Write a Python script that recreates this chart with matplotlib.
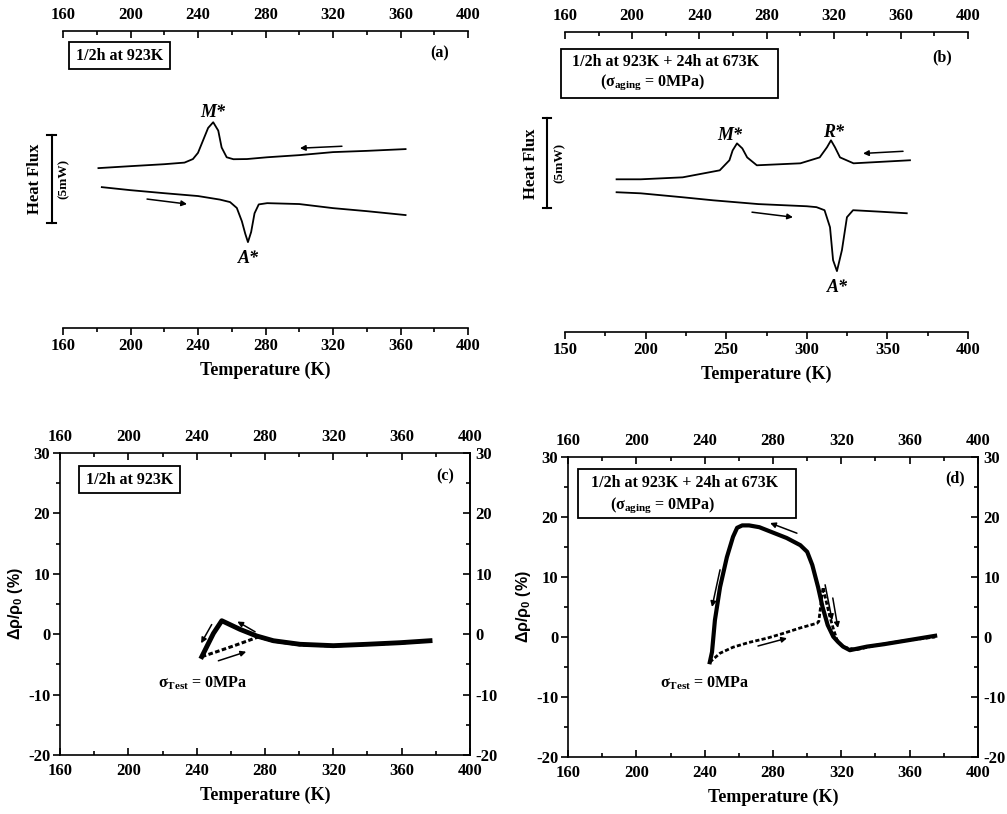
import matplotlib.pyplot as plt
from matplotlib.patches import Rectangle
from matplotlib.ticker import MultipleLocator

plt.rcParams['font.family'] = 'Liberation Serif'
plt.rcParams['font.weight'] = 'bold'
plt.rcParams['axes.labelweight'] = 'bold'
plt.rcParams['axes.unicode_minus'] = False
plt.rcParams['mathtext.fontset'] = 'custom'
plt.rcParams['mathtext.rm'] = 'Liberation Serif:bold'
plt.rcParams['mathtext.it'] = 'Liberation Serif:italic:bold'
plt.rcParams['mathtext.bf'] = 'Liberation Serif:bold'
plt.rcParams['mathtext.sf'] = 'Liberation Sans:bold'
plt.rcParams['axes.linewidth'] = 1.2

W, H = 1007, 814

# ---- DSC (a): 1/2h at 923K, heat flux in mW (arbitrary offset)
T_a_cool = [181, 200, 220, 232, 237, 240, 243, 246, 249, 252, 254, 257, 261, 269, 281, 300, 320, 340, 363]
hf_a_cool = [8.99, 9.10, 9.21, 9.30, 9.50, 9.85, 10.55, 11.25, 11.57, 11.10, 10.15, 9.60, 9.49, 9.50,
             9.60, 9.72, 9.89, 9.96, 10.06]
T_a_heat = [183, 200, 220, 240, 253, 259, 263, 266, 268, 269.6, 271.5, 273.5, 276, 281, 300, 320, 340, 363]
hf_a_heat = [7.92, 7.75, 7.58, 7.42, 7.22, 7.08, 6.75, 6.0, 5.3, 4.83, 5.4, 6.45, 6.95, 7.02, 6.97, 6.74,
             6.57, 6.35]

# ---- DSC (b): + 24h at 673K
T_b_cool = [182, 197, 223, 246, 252, 254, 256.7, 260, 263, 269, 296, 308, 312.5, 315, 317.5, 320.6, 329, 364]
hf_b_cool = [8.5, 8.5, 8.61, 9.0, 9.56, 10.11, 10.5, 10.22, 9.72, 9.28, 9.39, 9.72, 10.28, 10.67,
             10.28, 9.72, 9.39, 9.56]
T_b_heat = [182, 197, 223, 242, 270, 300, 306, 311, 314.4, 316.3, 318.7, 321.8, 324.9, 328.7, 345, 362]
hf_b_heat = [7.78, 7.72, 7.5, 7.33, 7.12, 7.0, 6.95, 6.78, 5.83, 4.0, 3.39, 4.56, 6.39, 6.78, 6.7, 6.61]

# ---- resistivity (c): 1/2h at 923K, delta rho / rho0 in %
T_c_cool = [376.6, 359, 339.6, 320, 300.5, 284.9, 275.2, 265.4, 254.7, 249.8, 245.9, 243]
dr_c_cool = [-1.08, -1.41, -1.67, -1.9, -1.67, -1.08, -0.3, 0.8, 2.23, 0.13, -2.07, -3.72]
T_c_heat = [243, 251.7, 261.5, 271.2, 276, 285, 300, 320, 340, 360, 376.6]
dr_c_heat = [-3.72, -2.9, -1.95, -0.96, -0.45, -1.15, -1.75, -1.95, -1.7, -1.45, -1.1]

# ---- resistivity (d): + 24h at 673K
T_d_cool = [374.9, 360, 345, 335, 325, 321, 318, 315.3, 312, 309, 306.4, 303, 300, 296, 288, 280, 272,
            266, 262, 259, 256.6, 253, 249, 246, 244.3, 243]
dr_d_cool = [0.2, -0.5, -1.2, -1.6, -2.2, -1.6, -0.8, 0.05, 2.0, 5.0, 8.3, 12.0, 14.2, 15.3, 16.5, 17.4,
             18.3, 18.6, 18.6, 18.2, 16.7, 13.3, 8.3, 2.8, -2.5, -4.2]
T_d_heat = [243, 249, 256.6, 266, 276.5, 286, 295.8, 305.8, 306.8, 309.3, 311.5, 313.4, 315.5, 317.5,
            321, 329, 340, 355, 374.9]
dr_d_heat = [-4.2, -2.7, -1.7, -0.9, -0.2, 0.6, 1.5, 2.3, 2.6, 8.3, 5.5, 3.3, 1.2, -0.5, -1.7, -2.1,
             -1.4, -0.7, 0.0]

x_ticks = [160, 200, 240, 280, 320, 360, 400]
x_ticks_b = [150, 200, 250, 300, 350, 400]
y_ticks_res = [-20, -10, 0, 10, 20, 30]
scale_mW = 5

TICK_FS = 12
TEXT_FS = 11.5

fig = plt.figure(figsize=(W / 100, H / 100), dpi=100)


def add_axes_px(x0, y0, x1, y1):
    return fig.add_axes([x0 / W, 1 - y1 / H, (x1 - x0) / W, (y1 - y0) / H])


def fig_text(x, y, s, **kw):
    fig.text(x / W, 1 - y / H, s, **kw)


def fig_box(x0, y0, x1, y1):
    fig.add_artist(Rectangle((x0 / W, 1 - y1 / H), (x1 - x0) / W, (y1 - y0) / H,
                             transform=fig.transFigure, fill=False, lw=1.3, ec='k'))


def arrow(ax, tail, head):
    ax.annotate('', xy=head, xytext=tail,
                arrowprops=dict(arrowstyle='-|>', lw=1.1, color='k', mutation_scale=8,
                                shrinkA=0, shrinkB=0))


def dsc_panel(box, xlim, ticks, minor, top_funcs=None):
    ax = add_axes_px(*box)
    ax.set_xlim(xlim)
    ax.set_ylim(0, 16.7)
    ax.spines[['left', 'right', 'top']].set_visible(False)
    ax.set_yticks([])
    ax.set_xticks(ticks)
    ax.xaxis.set_minor_locator(MultipleLocator(minor))
    ax.tick_params(axis='x', which='major', direction='out', length=5, width=1.2, labelsize=TICK_FS, pad=2)
    ax.tick_params(axis='x', which='minor', direction='out', length=3, width=1.2)
    ax.set_xlabel('Temperature (K)', fontsize=13, labelpad=6)
    if top_funcs:
        top = ax.secondary_xaxis('top', functions=top_funcs)
    else:
        top = ax.secondary_xaxis('top')
    top.set_xticks(x_ticks)
    top.xaxis.set_minor_locator(MultipleLocator(20))
    top.tick_params(axis='x', which='major', direction='in', length=5, width=1.2, labelsize=TICK_FS, pad=6)
    top.tick_params(axis='x', which='minor', direction='in', length=3, width=1.2)
    return ax


def heat_flux_bar(ax, x, y0, dx):
    ax.plot([x, x], [y0, y0 + scale_mW], color='k', lw=1.5, clip_on=False)
    for y in (y0, y0 + scale_mW):
        ax.plot([x - dx, x + dx], [y, y], color='k', lw=1.5, clip_on=False)


def res_panel(box):
    ax = add_axes_px(*box)
    ax.set_xlim(160, 400)
    ax.set_ylim(-20, 30)
    ax.set_xticks(x_ticks)
    ax.xaxis.set_minor_locator(MultipleLocator(20))
    ax.set_yticks(y_ticks_res)
    ax.yaxis.set_minor_locator(MultipleLocator(5))
    ax.tick_params(axis='x', which='both', direction='in', top=True, labeltop=True, width=1.2,
                   labelsize=TICK_FS, pad=6)
    ax.tick_params(axis='x', which='major', length=5)
    ax.tick_params(axis='x', which='minor', length=3)
    ax.tick_params(axis='y', which='both', direction='out', width=1.2, labelsize=TICK_FS, pad=2)
    ax.tick_params(axis='y', which='major', length=5)
    ax.tick_params(axis='y', which='minor', length=3)
    right = ax.secondary_yaxis('right')
    right.set_yticks(y_ticks_res)
    right.yaxis.set_minor_locator(MultipleLocator(5))
    right.tick_params(which='both', direction='in', width=1.2, labelsize=TICK_FS, pad=4)
    right.tick_params(which='major', length=5)
    right.tick_params(which='minor', length=3)
    ax.set_xlabel('Temperature (K)', fontsize=13, labelpad=5)
    ax.set_ylabel(r'$\mathsf{\Delta\rho/\rho_0\ (\%)}$', fontsize=11.5, labelpad=2)
    return ax


# (a)
ax_a = dsc_panel((63, 31, 468, 328), (160, 400), x_ticks, 20)
ax_a.plot(T_a_cool, hf_a_cool, color='k', lw=1.3)
ax_a.plot(T_a_heat, hf_a_heat, color='k', lw=1.3)
arrow(ax_a, (325.3, 10.22), (300.4, 10.11))
arrow(ax_a, (209.8, 7.25), (233.5, 6.97))
ax_a.text(248.9, 12.1, 'M*', style='italic', fontsize=13, ha='center', va='center')
ax_a.text(269.6, 3.9, 'A*', style='italic', fontsize=13, ha='center', va='center')
heat_flux_bar(ax_a, 153.3, 5.88, 2.5)
ax_a.text(143.4, 8.4, 'Heat Flux', rotation=90, fontsize=12, ha='center', va='center')
ax_a.text(160.3, 8.4, '(5mW)', rotation=90, fontsize=9.5, ha='center', va='center')
fig_box(69, 42, 170, 69)
fig_text(119.5, 56, '1/2h at 923K', fontsize=TEXT_FS, ha='center', va='center')
fig_text(440, 53, '(a)', fontsize=TEXT_FS, ha='center', va='center')

# (b)
ax_b = dsc_panel((565, 32, 968, 332), (150, 400), x_ticks_b, 25,
                 top_funcs=(lambda b: 160 + (b - 150) * 0.96, lambda t: 150 + (t - 160) / 0.96))
ax_b.plot(T_b_cool, hf_b_cool, color='k', lw=1.3)
ax_b.plot(T_b_heat, hf_b_heat, color='k', lw=1.3)
arrow(ax_b, (359.7, 10.06), (334.9, 9.94))
arrow(ax_b, (266, 6.67), (291.4, 6.39))
ax_b.text(252.4, 10.95, 'M*', style='italic', fontsize=13, ha='center', va='center')
ax_b.text(316.3, 11.1, 'R*', style='italic', fontsize=13, ha='center', va='center')
ax_b.text(318.7, 2.45, 'A*', style='italic', fontsize=13, ha='center', va='center')
heat_flux_bar(ax_b, 138.8, 6.89, 2.7)
ax_b.text(128.9, 9.39, 'Heat Flux', rotation=90, fontsize=12, ha='center', va='center')
ax_b.text(146.6, 9.39, '(5mW)', rotation=90, fontsize=9.5, ha='center', va='center')
fig_box(561, 49, 778, 98)
fig_text(666, 62, '1/2h at 923K + 24h at 673K', fontsize=TEXT_FS, ha='center', va='center')
fig_text(653, 82, r'($\mathrm{\sigma_{aging}}$ = 0MPa)', fontsize=TEXT_FS, ha='center', va='center')
fig_text(942, 57, '(b)', fontsize=TEXT_FS, ha='center', va='center')

# (c)
ax_c = res_panel((60, 453, 470, 755))
ax_c.plot(T_c_cool, dr_c_cool, color='k', lw=3.5, solid_joinstyle='round')
ax_c.plot(T_c_heat, dr_c_heat, color='k', lw=2.2, ls=(0, (1.5, 0.8)))
arrow(ax_c, (248.8, 1.6), (242.6, -1.5))
arrow(ax_c, (274.2, 0.4), (263.8, 2.1))
arrow(ax_c, (252.7, -4.4), (269, -2.9))
ax_c.text(217.4, -8.1, r'$\mathrm{\sigma_{Test}}$ = 0MPa', fontsize=TEXT_FS, ha='left', va='center')
fig_box(79, 466, 180, 493)
fig_text(129.5, 479.5, '1/2h at 923K', fontsize=TEXT_FS, ha='center', va='center')
fig_text(445, 476, '(c)', fontsize=TEXT_FS, ha='center', va='center')

# (d)
ax_d = res_panel((568, 457, 978, 757))
ax_d.plot(T_d_cool, dr_d_cool, color='k', lw=3.0, solid_joinstyle='round')
ax_d.plot(T_d_heat, dr_d_heat, color='k', lw=2.0, ls=(0, (1.5, 0.8)))
arrow(ax_d, (294, 17.3), (278.3, 19.0))
arrow(ax_d, (249, 11.2), (244.3, 5))
arrow(ax_d, (310.5, 8.7), (314.6, 2.8))
arrow(ax_d, (315, 6.5), (318, 1.5))
arrow(ax_d, (271.2, -1.5), (288.2, -0.2))
ax_d.text(213.9, -7.7, r'$\mathrm{\sigma_{Test}}$ = 0MPa', fontsize=TEXT_FS, ha='left', va='center')
fig_box(578, 469, 796, 518)
fig_text(685, 483, '1/2h at 923K + 24h at 673K', fontsize=TEXT_FS, ha='center', va='center')
fig_text(663, 505, r'($\mathrm{\sigma_{aging}}$ = 0MPa)', fontsize=TEXT_FS, ha='center', va='center')
fig_text(955, 478, '(d)', fontsize=TEXT_FS, ha='center', va='center')

fig.savefig('out.png', dpi=100)
